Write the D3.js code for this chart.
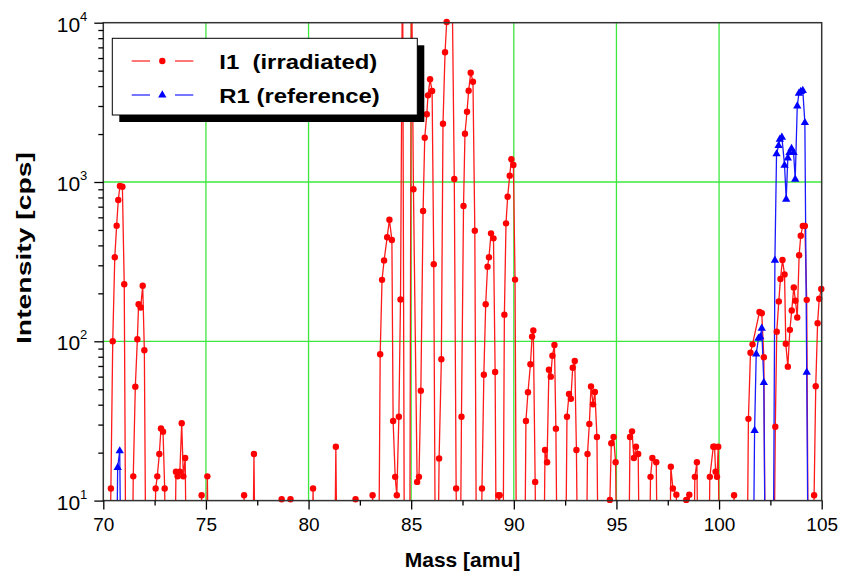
<!DOCTYPE html>
<html>
<head>
<meta charset="utf-8">
<script src="https://cdn.jsdelivr.net/npm/d3@7"></script>
<style>
  body { margin: 0; background: #fff; }
  svg { display: block; font-family: "Liberation Sans", Arial, sans-serif; }
</style>
</head>
<body>
<div id="chart"></div>
<script>
// mass spectrum values (1 = below the 10 cps floor)
const redMass = [70.27,70.37,70.46,70.56,70.65,70.73,70.81,70.93,71.02,71.12,
  71.36,71.46,71.56,71.66,71.72,71.82,71.92,72.00,72.10,
  72.45,72.55,72.63,72.73,72.81,72.91,72.99,73.09,
  73.44,73.54,73.62,73.73,73.82,73.90,73.99,74.09,
  74.69,74.79,74.88,74.97,75.07,75.17,76.76,76.86,76.96,77.24,77.34,77.44,
  78.59,78.69,78.79,79.02,79.12,79.22,80.12,80.22,80.32,81.23,81.33,81.43,
  82.19,82.29,82.39,83.02,83.12,83.22,
  83.39,83.49,83.58,83.68,83.83,83.94,84.06,84.12,84.22,84.30,84.40,84.48,84.58,84.68,
  84.92,85.01,85.11,85.29,85.38,85.47,85.58,85.66,85.76,85.82,85.92,86.02,86.10,86.20,
  86.26,86.36,86.47,86.55,86.65,86.73,86.82,86.91,87.00,87.10,87.19,87.28,
  87.36,87.45,87.55,87.62,87.72,87.80,87.90,88.01,88.10,88.20,
  88.35,88.45,88.54,88.63,88.72,88.79,88.89,89.01,89.09,89.17,89.25,89.31,89.40,
  89.45,89.54,89.62,89.70,89.80,89.88,89.98,90.06,90.15,
  90.50,90.59,90.69,90.81,90.89,90.95,91.04,91.13,
  91.42,91.52,91.62,91.71,91.80,91.88,91.98,92.05,92.15,
  92.49,92.59,92.69,92.78,92.87,92.97,93.05,93.15,
  93.49,93.59,93.68,93.76,93.86,93.95,94.05,94.15,
  94.58,94.68,94.75,94.86,94.96,95.06,
  95.56,95.66,95.76,95.85,95.95,96.06,96.16,
  96.56,96.66,96.75,96.94,97.04,97.55,97.65,97.75,97.92,98.02,
  98.30,98.40,98.55,98.65,98.72,98.82,98.92,99.02,
  99.45,99.55,99.72,99.78,99.83,99.90,99.96,100.06,100.63,100.73,100.83,
  101.33,101.43,101.53,101.63,101.97,102.08,102.18,102.28,
  102.64,102.74,102.81,102.91,102.99,103.09,103.19,103.25,103.35,103.45,103.54,
  103.64,103.72,103.81,103.90,103.98,104.08,104.18,104.27,104.37,
  104.53,104.63,104.71,104.80,104.88,104.98]
const redCps = [1,11.9,100,337,532,771,944,934,228,1,
  1,14.2,51.9,103,171,163,223,87.8,1,
  1,11.9,14.2,19.6,28.4,27.1,11.9,1,
  1,15.2,14.2,15.2,30.6,14.2,18.5,1,
  1,10.8,1,1,14.2,1,1,10.8,1,1,19.6,1,
  1,10.2,1,1,10.2,1,1,11.9,1,1,21.8,1,
  1,10.2,1,1,10.8,1,
  1,82.9,243,322,450,580,432,31.6,14.1,10.8,33.6,183,30000,1,
  1,30000,900,13.1,14.1,49,658,1897,2661,3500,4413,3725,305,1,
  1,18.4,77.1,2323,6518,10100,16000,20000,15000,1044,11.9,1,
  1,33.6,707,2010,2763,3743,4856,4262,495,1,
  1,11.9,61.7,171,294,337,476,443,64.2,1,10.8,10.8,1,
  1,147,550,808,1096,1388,1278,244,1,
  1,31.6,47.9,71.7,107,117,13.1,1,
  1,20.8,17.4,66.3,60,81.2,94.8,28.3,1,
  1,33.6,46.7,43.6,68.3,75.2,20.8,1,
  1,19.6,30.3,52.1,40.2,48.1,25.1,1,
  1,10.1,22.9,25.1,17.4,1,
  1,25.1,27.2,18.5,21.8,19.6,1,
  1,14.1,18.5,17.4,1,1,16.3,11.9,10.9,1,
  1,10.1,10.9,1,1,14.1,17.4,1,
  1,14.1,21.8,21.8,15.2,14.1,21.8,1,1,10.8,1,
  1,32.6,84.8,95.7,153,150,79.4,1,
  1,29.1,115,178,246,324,263,96.6,69.3,118,156,
  218,180,141,347,460,530,530,182,1,
  1,10.8,52.2,130,185,213]

const blueMass = [70.00,70.60,70.70,70.80,70.90,
  101.63,101.73,101.81,101.92,102.01,102.08,102.18,102.28,
  102.62,102.72,102.80,102.90,102.96,103.06,103.19,103.27,103.35,103.43,103.53,
  103.63,103.71,103.81,103.89,103.98,104.08,104.18,104.27,104.37,105.00]
const blueCps = [1,1,16.1,20.5,1,
  1,27.5,83.2,104.5,106.5,120.7,55,1,
  1,322,1500,1690,1853,1909,1273,778,1415,1527,1619,
  1527,1040,3000,3606,3690,3744,2357,63.9,1,1]

const xTicks = [70, 75, 80, 85, 90, 95, 100, 105]
const xMinor = [72.5, 77.5, 82.5, 87.5, 92.5, 97.5, 102.5]
const yTicks = [10, 100, 1000, 10000]
const yExp = ["1", "2", "3", "4"]
const legendNames = ["I1  (irradiated)", "R1 (reference)"]

const margin = { top: 22.7, right: 20.3, bottom: 78.4, left: 103.3 }
const width = 842 - margin.left - margin.right
const height = 579 - margin.top - margin.bottom

const svg = d3.select("#chart").append("svg")
    .attr("width", 842)
    .attr("height", 579)

const g = svg.append("g")
    .attr("transform", `translate(${margin.left},${margin.top})`)

const x = d3.scaleLinear().domain([70, 105]).range([0, width])
const y = d3.scaleLog().domain([10, 10000]).range([height, 0])

svg.append("defs").append("clipPath").attr("id", "plotclip")
  .append("rect").attr("width", width).attr("height", height)

// grid
const gridColor = "#3de83d"
g.selectAll(".gx").data(xTicks.slice(1, -1)).join("line")
    .attr("x1", d => x(d)).attr("x2", d => x(d))
    .attr("y1", 0).attr("y2", height)
    .attr("stroke", gridColor).attr("stroke-width", 1.3)
g.selectAll(".gy").data([100, 1000]).join("line")
    .attr("x1", 0).attr("x2", width)
    .attr("y1", d => y(d)).attr("y2", d => y(d))
    .attr("stroke", gridColor).attr("stroke-width", 1.3)

// series
const red = redMass.map((m, i) => ({ m: m, v: redCps[i] }))
const blue = blueMass.map((m, i) => ({ m: m, v: blueCps[i] }))

const line = d3.line().x(d => x(d.m)).y(d => y(d.v))

const plot = g.append("g").attr("clip-path", "url(#plotclip)")
plot.append("path").datum(red)
    .attr("fill", "none").attr("stroke", "#ff1a1a").attr("stroke-width", 1.3)
    .attr("d", line)
plot.append("path").datum(blue)
    .attr("fill", "none").attr("stroke", "#1a1aff").attr("stroke-width", 1.3)
    .attr("d", line)

const visible = d => d.v >= 9.9 && d.v <= 10500
g.selectAll(".dot").data(red.filter(visible)).join("circle")
    .attr("cx", d => x(d.m)).attr("cy", d => y(d.v))
    .attr("r", 3.2).attr("fill", "#ff0000")

const tri = d3.symbol().type(d3.symbolTriangle).size(30)
g.selectAll(".tri").data(blue.filter(visible)).join("path")
    .attr("transform", d => `translate(${x(d.m)},${y(d.v)})`)
    .attr("d", tri).attr("fill", "#0000ff")

// frame
g.append("rect").attr("width", width).attr("height", height)
    .attr("fill", "none").attr("stroke", "#333").attr("stroke-width", 1.5)

// x axis
const xAxis = g.append("g").attr("transform", `translate(0,${height})`)
    .call(d3.axisBottom(x).tickValues(xTicks).tickSize(9).tickPadding(8).tickFormat(d3.format("d")))
xAxis.call(a => a.select(".domain").remove())
xAxis.selectAll("text").attr("font-size", 19).attr("fill", "#000")
    .style("font-family", "'Liberation Sans', Arial, sans-serif")
xAxis.selectAll("line").attr("stroke", "#000").attr("stroke-width", 1.3)
g.append("g").attr("transform", `translate(0,${height})`)
    .call(d3.axisBottom(x).tickValues(xMinor).tickSize(5).tickFormat(""))
    .call(a => a.select(".domain").remove())
    .selectAll("line").attr("stroke", "#000").attr("stroke-width", 1.3)

// y axis
const yMinor = []
for (let k = 10; k < 10000; k *= 10) for (let j = 2; j <= 9; j++) yMinor.push(k * j)
g.append("g")
    .call(d3.axisLeft(y).tickValues(yTicks).tickSize(9).tickFormat(""))
    .call(a => a.select(".domain").remove())
    .selectAll("line").attr("stroke", "#000").attr("stroke-width", 1.3)
g.append("g")
    .call(d3.axisLeft(y).tickValues(yMinor).tickSize(5).tickFormat(""))
    .call(a => a.select(".domain").remove())
    .selectAll("line").attr("stroke", "#000").attr("stroke-width", 1.3)

const yLab = g.selectAll(".ylab").data(yTicks).join("text")
    .attr("x", -16).attr("y", d => y(d) + 9)
    .attr("text-anchor", "end").attr("font-size", 21)
yLab.append("tspan").text("10")
yLab.append("tspan").attr("font-size", 13).attr("dy", -11).text((d, i) => yExp[i])

// axis titles
svg.append("text")
    .attr("x", margin.left + width / 2).attr("y", 567)
    .attr("text-anchor", "middle").attr("font-weight", "bold").attr("font-size", 21)
    .text("Mass [amu]")
svg.append("text")
    .attr("transform", `translate(31,248) rotate(-90)`)
    .attr("text-anchor", "middle").attr("font-weight", "bold").attr("font-size", 21)
    .attr("textLength", 192).attr("lengthAdjust", "spacingAndGlyphs")
    .text("Intensity [cps]")

// legend
const lg = svg.append("g")
lg.append("rect").attr("x", 119.3).attr("y", 45.3).attr("width", 305).attr("height", 76.7).attr("fill", "#000")
lg.append("rect").attr("x", 112.3).attr("y", 38.3).attr("width", 305).attr("height", 76.7)
    .attr("fill", "#fff").attr("stroke", "#000").attr("stroke-width", 1)
const legColors = ["#ff1a1a", "#1a1aff"]
const legRows = [61, 95]
legendNames.forEach((name, i) => {
  const yy = legRows[i]
  lg.append("line").attr("x1", 131.7).attr("x2", 150).attr("y1", yy).attr("y2", yy)
      .attr("stroke", legColors[i]).attr("stroke-width", 1.2)
  lg.append("line").attr("x1", 175).attr("x2", 193.3).attr("y1", yy).attr("y2", yy)
      .attr("stroke", legColors[i]).attr("stroke-width", 1.2)
  if (i === 0) {
    lg.append("circle").attr("cx", 162.3).attr("cy", yy).attr("r", 3.2).attr("fill", "#ff0000")
  } else {
    lg.append("path").attr("transform", `translate(162.3,${yy})`).attr("d", tri).attr("fill", "#0000ff")
  }
  lg.append("text").attr("x", 219.3).attr("y", yy + 7.5)
      .attr("font-weight", "bold").attr("font-size", 21)
      .style("white-space", "pre")
      .attr("textLength", i === 0 ? 158 : 160.5).attr("lengthAdjust", "spacingAndGlyphs")
      .text(name)
})
</script>
</body>
</html>
